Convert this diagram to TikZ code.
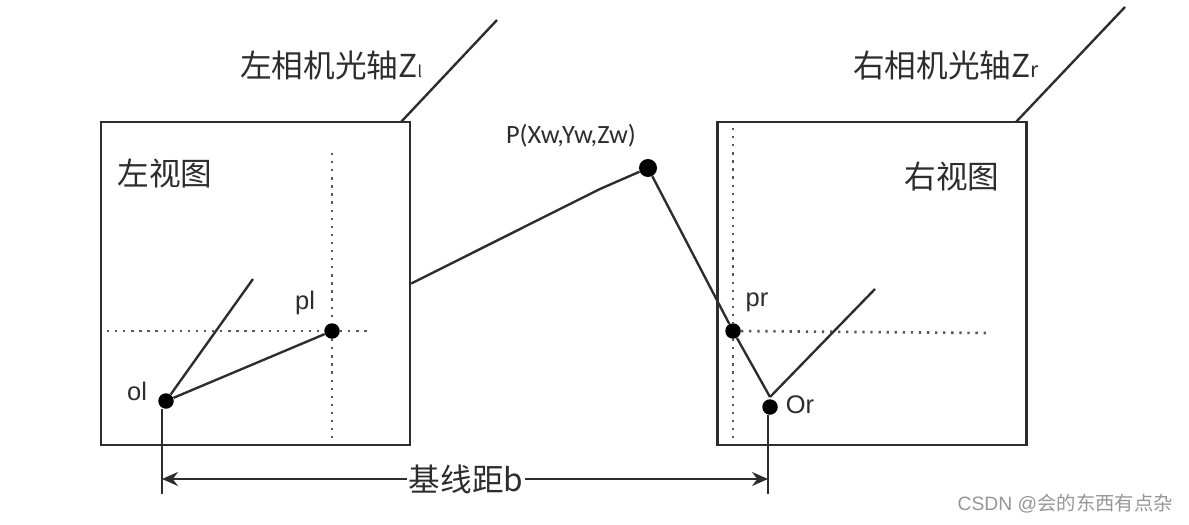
\documentclass[tikz,border=0pt]{standalone}
\usepackage{fontspec}
\usepackage{xcolor}
\usepackage{tikz}
\usetikzlibrary{arrows.meta,positioning,calc}
\setmainfont{Liberation Sans}
\newfontfamily\cjk{Noto Sans CJK SC}
\newfontfamily\calib{Carlito}
\definecolor{ink}{RGB}{45,45,45}
\definecolor{mark}{RGB}{150,150,150}
\begin{document}
\begin{tikzpicture}[
  x=0.02cm, y=-0.02cm,
  view/.style={draw=ink, line width=1.4pt, minimum width=6.18cm, minimum height=6.46cm, inner sep=0pt},
  dot/.style={circle, fill=black, inner sep=0pt, minimum size=0.31cm},
  ray/.style={draw=ink, line width=1.35pt},
  guide/.style={draw=ink!80, line width=1.5pt, dash pattern=on 1.3pt off 3.3pt},
  arrow/.style={-{Stealth[length=3.2mm, width=2.8mm]}, draw=ink, line width=1.2pt},
  cn/.style={font=\cjk\fontsize{18}{20}\selectfont, text=ink, inner sep=0pt},
  tag/.style={font=\fontsize{14.5}{16}\selectfont, text=ink, inner sep=0pt}]
  \useasboundingbox (0,0) rectangle (1189,524);
  \node[view] (lview) at (255.5,283.5) {};
  \node[view] (rview) at (872,283.5) {};
  \node[dot] (ol) at (166,401) {};
  \node[dot] (pl) at (332,331) {};
  \node[dot] (pr) at (733,331) {};
  \node[dot] (or) at (770,407) {};
  \node[dot, minimum size=0.36cm] (P) at (648,168) {};
  \coordinate (ltip) at (497,20);
  \coordinate (lfoot) at (401,122);
  \coordinate (rtip) at (1125,7);
  \coordinate (rfoot) at (1016,122);
  \coordinate (lray) at (253,279);
  \coordinate (rray) at (875,289);
  \coordinate (orfoot) at (770,397);
  \coordinate (bend) at (600,189);
  \coordinate (bl) at (162,494);
  \coordinate (br) at (768,494);
  % camera axes
  \draw[ray] (lfoot) -- (ltip);
  \draw[ray] (rfoot) -- (rtip);
  \node[cn, anchor=west] (zl) at (240,65) {左相机光轴Z{\fontsize{9}{10}\selectfont l}};
  \node[cn, anchor=west] (zr) at (853,65) {右相机光轴Z{\fontsize{12}{10}\selectfont r}};
  \node[cn] (ltitle) at (165,173) {左视图};
  \node[cn] (rtitle) at (952,176) {右视图};
  % image plane guides
  \draw[guide] (332,153) -- (pl) -- (332,440);
  \draw[guide] (107,331) -- (pl) -- (372,331);
  \draw[guide] (733,128) -- (pr) -- (733,440);
  \draw[guide] (pr) -- (990,333);
  % rays
  \draw[ray] (ol) -- (lray);
  \draw[ray] (ol) -- (pl);
  \draw[ray] (orfoot) -- (rray);
  \draw[ray] (lview.east) -- (bend) -- (P);
  \draw[ray] (P) -- (pr);
  \draw[ray] (pr) -- (orfoot);
  % baseline
  \draw[ray] (ol.south -| bl) -- (bl);
  \draw[ray] (or.south -| br) -- (br);
  \node[cn, fill=white, inner xsep=1pt, inner ysep=2pt] (base) at (466,479) {基线距b};
  \draw[arrow] (base) -- (bl |- base);
  \draw[arrow] (base) -- (br |- base);
  % point labels
  \node[font=\calib\fontsize{15}{17}\selectfont, text=ink, inner sep=0pt] (Plabel) at (571,136) {P(Xw,Yw,Zw)};
  \node[tag] (oltag) at (137,391) {ol};
  \node[tag] (pltag) at (305,303) {pl};
  \node[tag] (prtag) at (757,302) {pr};
  \node[tag] (ortag) at (800,405) {Or};
  \node[font=\fontsize{11}{13}\selectfont, text=mark, inner sep=0pt, anchor=east] (csdn) at (1173,504) {CSDN @{\cjk 会的东西有点杂}};
\end{tikzpicture}
\end{document}
